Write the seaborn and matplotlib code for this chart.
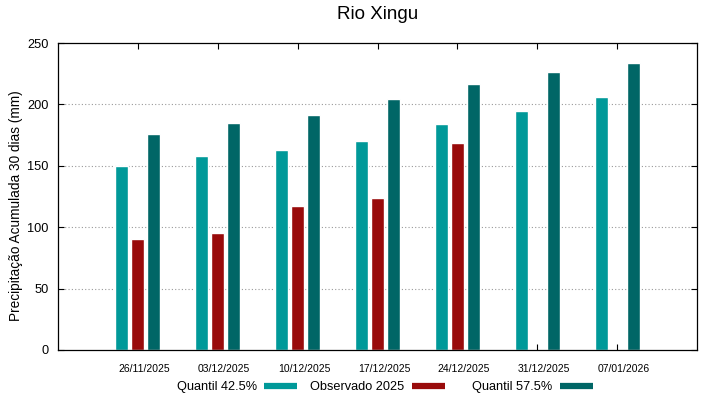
import numpy as np
import pandas as pd
import matplotlib
matplotlib.use("Agg")
import matplotlib.pyplot as plt
import matplotlib.transforms as mtransforms
from matplotlib.lines import Line2D
import seaborn as sns

# data
datas = ["26/11/2025", "03/12/2025", "10/12/2025", "17/12/2025",
         "24/12/2025", "31/12/2025", "07/01/2026"]
quantil_425 = [150, 158, 163, 170, 184, 195, 206]
observado_2025 = [90, 95.5, 117.5, 123.5, 168.5, np.nan, np.nan]
quantil_575 = [176, 184.5, 191, 204.5, 216.5, 226, 233.5]

series = ["Quantil 42.5%", "Observado 2025", "Quantil 57.5%"]
cores = ["#009999", "#990b0b", "#006666"]

df = pd.DataFrame({
    "data": datas * 3,
    "serie": [series[0]] * 7 + [series[1]] * 7 + [series[2]] * 7,
    "valor": quantil_425 + observado_2025 + quantil_575,
})

sns.set_theme(style="white")
plt.rcParams["font.family"] = ["Liberation Sans", "DejaVu Sans"]
plt.rcParams["text.color"] = "black"
plt.rcParams["axes.labelcolor"] = "black"
plt.rcParams["xtick.color"] = "black"
plt.rcParams["ytick.color"] = "black"

fig = plt.figure(figsize=(7.19, 3.99), dpi=100)
ax = fig.add_axes([58 / 719, 1 - 350 / 399, (697 - 58) / 719, (350 - 43) / 399])

sns.barplot(data=df, x="data", y="valor", hue="serie", hue_order=series,
            palette=cores, width=0.6, gap=0.19, saturation=1,
            errorbar=None, legend=False, ax=ax)

ax.set_xlim(-1, 7)
ax.set_ylim(0, 250)
ax.set_yticks([0, 50, 100, 150, 200, 250])
ax.set_xlabel("")
ax.set_ylabel("Precipitação Acumulada 30 dias (mm)", fontsize=9.8)
ax.yaxis.set_label_coords(-0.055, 0.47)
ax.set_title("Rio Xingu", fontsize=13.5, pad=17)

for s in ax.spines.values():
    s.set_visible(True)
    s.set_color("black")
    s.set_linewidth(0.9)

for y in [50, 100, 150, 200]:
    ax.axhline(y, color="#999999", linestyle=(0, (1, 2)), linewidth=0.8, zorder=0)

ax.tick_params(axis="x", direction="in", length=4, width=0.8, top=True,
               bottom=True, labelsize=7.5, pad=10)
ax.tick_params(axis="y", direction="in", length=4, width=0.8, left=True,
               right=True, labelsize=9.2, pad=7)

# gnuplot style: labels sit a bit to the right of the ticks
shift = mtransforms.ScaledTranslation(6.5 / 100, 0, fig.dpi_scale_trans)
for lab in ax.get_xticklabels():
    lab.set_transform(lab.get_transform() + shift)

# gnuplot key: equal columns, text right-aligned before the sample
fim_amostra = [297, 445, 593]
for cor, nome, xr in zip(cores, series, fim_amostra):
    h = Line2D([0], [0], color=cor, lw=4.5, solid_capstyle="butt")
    leg = fig.legend([h], [nome], loc="center right",
                     bbox_to_anchor=(xr / 719, 1 - 387 / 399),
                     frameon=False, markerfirst=False, fontsize=9.2,
                     handlelength=2.6, handletextpad=0.55,
                     borderpad=0, borderaxespad=0)

fig.savefig("out.png", dpi=100)
